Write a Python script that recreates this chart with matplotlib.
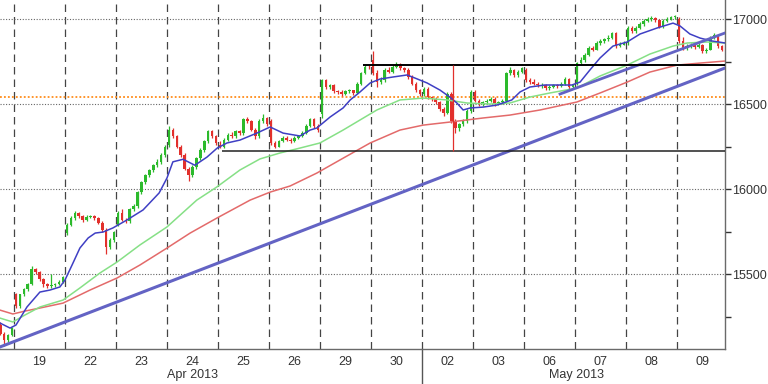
import numpy as np
import matplotlib
matplotlib.use("Agg")
import matplotlib.pyplot as plt
from matplotlib.transforms import blended_transform_factory

plt.rcParams['font.family'] = ['Liberation Sans', 'DejaVu Sans']

# 30 min bars, 13 per session; first 4 bars belong to Apr 18
bars_per_day = 13
first_bar = -4

opens = [
    15200, 15150, 15110, 15140,
    15380, 15310, 15380, 15410, 15440, 15530, 15510, 15470, 15440, 15430, 15435, 15440, 15455,
    15740, 15790, 15830, 15860, 15840, 15815, 15835, 15840, 15830, 15800, 15760, 15660, 15700,
    15790, 15860, 15820, 15810, 15880, 15900, 15980, 16040, 16080, 16110, 16140, 16160, 16200,
    16260, 16350, 16310, 16250, 16200, 16120, 16080, 16130, 16180, 16230, 16280, 16340, 16310,
    16260, 16250, 16290, 16320, 16310, 16340, 16330, 16410, 16400, 16350, 16310, 16400, 16420,
    16400, 16270, 16250, 16280, 16300, 16290, 16280, 16300, 16310, 16330, 16370, 16410, 16370,
    16440, 16640, 16600, 16610, 16575, 16570, 16560, 16575, 16580, 16565, 16620, 16680, 16720,
    16760, 16680, 16630, 16640, 16700, 16690, 16720, 16735, 16710, 16700, 16660, 16620, 16580,
    16560, 16590, 16540, 16530, 16510, 16470, 16450, 16560, 16400, 16360, 16380, 16400, 16460,
    16570, 16520, 16500, 16510, 16520, 16530, 16500, 16510, 16520, 16680, 16700, 16670, 16690,
    16700, 16640, 16630, 16620, 16610, 16610, 16595, 16600, 16610, 16605, 16620, 16650, 16600,
    16620, 16740, 16760, 16790, 16830, 16820, 16860, 16870, 16880, 16890, 16915, 16840, 16850,
    16860, 16950, 16930, 16950, 16970, 16990, 17000, 17005, 16995, 16955, 16990, 17000, 17010,
    17000, 16870, 16830, 16840, 16845, 16835, 16850, 16810, 16820, 16890, 16905, 16840,
]
highs = [
    15215, 15160, 15150, 15190,
    15390, 15385, 15420, 15450, 15545, 15535, 15515, 15475, 15445, 15500, 15450, 15465, 15490,
    15800, 15840, 15870, 15865, 15845, 15845, 15850, 15845, 15835, 15810, 15770, 15710, 15755,
    15870, 15880, 15830, 15890, 15910, 15990, 16050, 16090, 16120, 16150, 16175, 16210, 16260,
    16370, 16360, 16320, 16260, 16210, 16130, 16140, 16190, 16240, 16290, 16350, 16350, 16320,
    16280, 16300, 16330, 16335, 16350, 16345, 16420, 16425, 16405, 16360, 16410, 16440, 16425,
    16410, 16280, 16290, 16310, 16310, 16300, 16310, 16320, 16340, 16380, 16420, 16415, 16380,
    16650, 16650, 16620, 16615, 16585, 16580, 16585, 16590, 16585, 16630, 16690, 16730, 16730,
    16810, 16700, 16660, 16710, 16715, 16730, 16750, 16740, 16720, 16710, 16670, 16630, 16590,
    16600, 16600, 16550, 16540, 16515, 16480, 16570, 16570, 16410, 16390, 16410, 16470, 16580,
    16580, 16530, 16520, 16530, 16540, 16540, 16520, 16530, 16690, 16715, 16705, 16700, 16720,
    16710, 16655, 16645, 16630, 16625, 16620, 16610, 16620, 16620, 16630, 16660, 16655, 16620,
    16750, 16775, 16800, 16840, 16840, 16870, 16880, 16890, 16905, 16925, 16925, 16865, 16870,
    16960, 16960, 16960, 16980, 17000, 17010, 17015, 17012, 17000, 17000, 17010, 17020, 17025,
    17010, 16895, 16855, 16860, 16855, 16860, 16855, 16830, 16900, 16920, 16910, 16850,
]
lows = [
    15140, 15075, 15100, 15135,
    15300, 15300, 15370, 15400, 15435, 15500, 15460, 15425, 15420, 15420, 15425, 15435, 15450,
    15730, 15780, 15820, 15830, 15805, 15810, 15830, 15820, 15795, 15750, 15620, 15650, 15690,
    15780, 15810, 15800, 15800, 15870, 15890, 15970, 16030, 16070, 16100, 16130, 16150, 16190,
    16250, 16300, 16240, 16190, 16110, 16050, 16070, 16120, 16170, 16220, 16270, 16300, 16260,
    16240, 16240, 16280, 16300, 16300, 16320, 16320, 16390, 16340, 16295, 16300, 16390, 16370,
    16260, 16240, 16245, 16275, 16280, 16270, 16275, 16295, 16305, 16325, 16365, 16360, 16335,
    16420, 16590, 16590, 16565, 16560, 16550, 16555, 16565, 16555, 16560, 16610, 16675, 16705,
    16670, 16600, 16620, 16630, 16680, 16680, 16710, 16700, 16690, 16650, 16610, 16570, 16545,
    16550, 16530, 16520, 16500, 16460, 16430, 16440, 16390, 16330, 16340, 16370, 16390, 16450,
    16510, 16490, 16490, 16500, 16510, 16490, 16495, 16500, 16510, 16670, 16660, 16660, 16680,
    16630, 16620, 16610, 16600, 16595, 16585, 16585, 16595, 16595, 16600, 16610, 16590, 16595,
    16610, 16730, 16750, 16780, 16810, 16815, 16850, 16860, 16870, 16885, 16830, 16835, 16845,
    16850, 16920, 16920, 16940, 16960, 16980, 16990, 16985, 16945, 16945, 16980, 16995, 17000,
    16860, 16820, 16820, 16830, 16825, 16830, 16800, 16800, 16815, 16880, 16830, 16810,
]
closes = [
    15150, 15110, 15140, 15180,
    15310, 15380, 15410, 15440, 15530, 15510, 15470, 15440, 15430, 15435, 15440, 15455, 15480,
    15790, 15830, 15860, 15840, 15815, 15835, 15840, 15830, 15800, 15760, 15660, 15700, 15745,
    15860, 15820, 15810, 15880, 15900, 15980, 16040, 16080, 16110, 16140, 16160, 16200, 16250,
    16350, 16310, 16250, 16200, 16120, 16080, 16130, 16180, 16230, 16280, 16340, 16310, 16270,
    16250, 16290, 16320, 16310, 16340, 16330, 16410, 16400, 16350, 16310, 16400, 16420, 16380,
    16270, 16250, 16280, 16300, 16290, 16280, 16300, 16310, 16330, 16370, 16410, 16370, 16345,
    16640, 16600, 16610, 16575, 16570, 16560, 16575, 16580, 16565, 16620, 16680, 16720, 16715,
    16680, 16630, 16640, 16700, 16690, 16720, 16735, 16710, 16700, 16660, 16620, 16580, 16560,
    16590, 16540, 16530, 16510, 16470, 16450, 16560, 16400, 16360, 16380, 16400, 16460, 16570,
    16520, 16500, 16510, 16520, 16530, 16500, 16510, 16520, 16680, 16700, 16670, 16690, 16710,
    16640, 16630, 16620, 16610, 16610, 16595, 16600, 16610, 16605, 16620, 16650, 16600, 16610,
    16740, 16760, 16790, 16830, 16820, 16860, 16870, 16880, 16890, 16915, 16840, 16850, 16860,
    16950, 16930, 16950, 16970, 16990, 17000, 17005, 16995, 16955, 16990, 17000, 17010, 17015,
    16870, 16830, 16840, 16845, 16835, 16850, 16810, 16820, 16890, 16905, 16840, 16820,
]

# moving averages (bar index, level)
ma_fast_x = [-4.1, -1.5, 0.0, 2.8, 6.1, 8.7, 11.2, 12.5, 14.3, 16.3, 18.4, 20.2, 22.2, 24.7, 28.3,
             32.4, 36.5, 38.5, 40.0, 42.6, 45.6, 48.7, 51.3, 53.8, 57.1, 61.4, 64.8, 68.1, 72.4,
             75.0, 76.7, 80.1, 83.4, 85.2, 87.7, 90.3, 92.8, 96.1, 99.7, 101.7, 104.8, 108.1,
             110.6, 112.4, 114.0, 115.8, 119.1, 122.6, 126.4, 128.5, 131.0, 134.8, 138.7, 141.7,
             143.8, 146.3, 148.9, 152.2, 155.8, 159.1, 163.4, 167.5, 169.3, 171.8, 174.4, 177.4, 180.8]
ma_fast_y = [15212, 15182, 15200, 15306, 15394, 15406, 15424, 15465, 15553, 15653, 15712, 15741,
             15747, 15771, 15818, 15877, 15977, 16065, 16160, 16175, 16140, 16188, 16241, 16271,
             16288, 16329, 16365, 16329, 16312, 16347, 16359, 16424, 16477, 16524, 16571, 16624,
             16647, 16659, 16671, 16653, 16624, 16582, 16541, 16506, 16465, 16477, 16482, 16494,
             16524, 16571, 16600, 16612, 16612, 16612, 16629, 16700, 16771, 16841, 16865, 16912,
             16947, 16976, 16959, 16912, 16888, 16871, 16859]
ma_mid_x = [-4.1, -0.8, 2.3, 6.1, 12.0, 16.3, 21.4, 25.8, 31.6, 38.5, 46.1, 51.2, 57.1, 62.2, 67.3,
            72.4, 77.5, 83.4, 92.0, 97.9, 103.8, 109.9, 115.0, 120.8, 125.9, 131.0, 136.1, 143.0,
            148.9, 155.8, 161.6, 167.5, 171.1, 176.2, 180.8]
ma_mid_y = [15241, 15218, 15259, 15306, 15347, 15418, 15506, 15571, 15671, 15777, 15935, 16012,
            16112, 16177, 16212, 16241, 16271, 16347, 16465, 16524, 16535, 16524, 16506, 16500,
            16506, 16541, 16565, 16594, 16665, 16729, 16794, 16841, 16859, 16865, 16859]
ma_slow_x = [-4.1, -0.8, 2.3, 6.1, 12.0, 18.9, 25.8, 31.6, 38.5, 44.4, 51.2, 59.7, 64.8, 69.9, 76.7,
             83.9, 90.3, 97.9, 103.8, 110.6, 119.1, 125.9, 133.6, 143.0, 148.9, 155.8, 161.6,
             168.5, 174.4, 180.8]
ma_slow_y = [15288, 15265, 15282, 15300, 15329, 15406, 15477, 15553, 15653, 15741, 15829, 15935,
             15982, 16018, 16094, 16188, 16271, 16347, 16376, 16394, 16418, 16435, 16465, 16512,
             16565, 16629, 16688, 16729, 16741, 16753]

# drawn studies
trend_x = [-4.07, 180.75]
trend_y = [15071, 16712]
channel_x = [138.7, 180.75]
channel_y = [16559, 16918]
resistance = 16729
resistance_start = 88.5
support = 16224
support_start = 52.5
marker_bar = 111.3
orange_level = 16541

day_labels = ['19', '22', '23', '24', '25', '26', '29', '30', '02', '03', '06', '07', '08', '09']
month_labels = ['Apr 2013', 'May 2013']
month_label_x = [44.9, 142.8]
month_break = 103.5

opens = np.array(opens); highs = np.array(highs); lows = np.array(lows); closes = np.array(closes)
x = np.arange(len(closes)) + first_bar

fig = plt.figure(figsize=(7.68, 3.84), dpi=100)
ax = fig.add_axes([0, 35 / 384, 725 / 768, 349 / 384])

# grid
for k in range(len(day_labels)):
    ax.axvline(k * bars_per_day - 0.5, color='#444444', lw=0.9, ls=(0, (6, 4)), zorder=1)
for lvl in [15500, 16000, 16500, 17000]:
    ax.axhline(lvl, color='#666666', lw=0.8, ls=(0, (1, 1.5)), zorder=1)
ax.axhline(orange_level, color='#ff8c1a', lw=1.3, ls=(0, (1, 1.2)), zorder=1)

# candles
up = closes >= opens
cols = np.where(up, '#2cba2c', '#e2302c')
ax.vlines(x, lows, highs, colors=cols, lw=0.9, zorder=3)
ax.bar(x, np.maximum(np.abs(closes - opens), 4), bottom=np.minimum(opens, closes),
       width=0.65, color=cols, linewidth=0, zorder=4)

# moving averages
ax.plot(ma_slow_x, ma_slow_y, color='#e36a6a', lw=1.1, zorder=5)
ax.plot(ma_mid_x, ma_mid_y, color='#86e086', lw=1.1, zorder=5)
ax.plot(ma_fast_x, ma_fast_y, color='#3f3fc4', lw=1.1, zorder=6)

# trend lines and levels
ax.plot(trend_x, trend_y, color='#6363c4', lw=2.2, zorder=7)
ax.plot(channel_x, channel_y, color='#6363c4', lw=2.0, zorder=7)
ax.hlines(resistance, resistance_start, 180.75, color='black', lw=1.4, zorder=7)
ax.hlines(support, support_start, 180.75, color='#222222', lw=1.1, zorder=7)
ax.vlines(marker_bar, support, resistance, color='#e2302c', lw=0.9, zorder=7)

ax.set_xlim(-4.07, 180.75)
ax.set_ylim(15059, 17112)

# axes styling
for s in ['left', 'top']:
    ax.spines[s].set_visible(False)
for s in ['right', 'bottom']:
    ax.spines[s].set_color('#6a6a6a')
    ax.spines[s].set_linewidth(1.0)

ax.yaxis.tick_right()
ax.set_yticks([15500, 16000, 16500, 17000])
ax.set_yticks([15250, 15750, 16250, 16750], minor=True)
ax.tick_params(axis='y', which='both', direction='out', length=4, width=1,
               color='#333333', labelsize=9, labelcolor='#333333', pad=1)

ax.set_xticks([k * bars_per_day + 6 for k in range(len(day_labels))])
ax.set_xticklabels(day_labels)
ax.tick_params(axis='x', which='both', length=0, labelsize=9, labelcolor='#333333', pad=5)

tr = blended_transform_factory(ax.transData, ax.transAxes)
for lbl, mx in zip(month_labels, month_label_x):
    ax.text(mx, -0.075, lbl, transform=tr, ha='center', va='center', fontsize=9, color='#333333')
ax.plot([month_break, month_break], [0, -0.11], transform=tr, color='#555555', lw=1, clip_on=False)

fig.savefig('out.png', dpi=100, facecolor='white')
